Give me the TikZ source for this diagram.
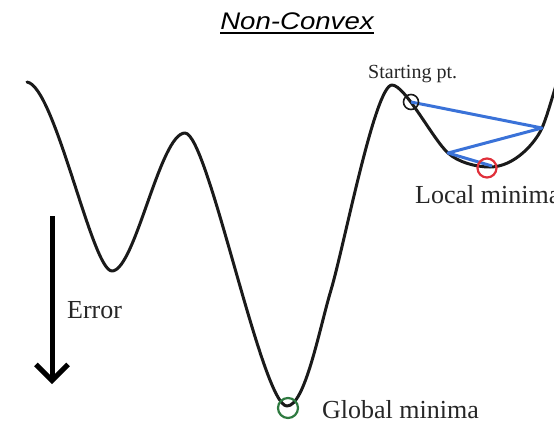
\documentclass[tikz,border=0pt]{standalone}
\usepackage{fontspec}
\setmainfont{Liberation Serif}
\newfontfamily\titlefont{Liberation Sans}
\usetikzlibrary{arrows.meta}
\definecolor{curveblk}{HTML}{1A1A1A}
\definecolor{stepblue}{HTML}{3A72D8}
\definecolor{minred}{HTML}{E0303A}
\definecolor{mingreen}{HTML}{2E7A40}
\tikzset{
  errcurve/.style={line width=3pt, color=curveblk, line join=round, line cap=round},
  stepline/.style={line width=3pt, color=stepblue, line join=round},
  lbl/.style={inner sep=0pt, anchor=base west, text=black!85},
  marker/.style={draw, circle, inner sep=0pt, fill=none}
}
\begin{document}
\begin{tikzpicture}[x=1pt,y=-1pt]
\useasboundingbox (0,0) rectangle (554,423);
% title
\node[inner sep=0pt, anchor=base, xscale=1.15] (title) at (297,29) {\titlefont\fontsize{24}{27}\selectfont\itshape Non-Convex};
\draw[line width=2pt] ([yshift=-4pt]title.base west) -- ([yshift=-4pt]title.base east);
% error surface
\draw[errcurve]
  (27,82) .. controls (55,86) and (92,271) .. (112,271)
  .. controls (135,271) and (160,133) .. (185,133)
  .. controls (208,133) and (262,406) .. (287,406)
  .. controls (305,406) and (319.5,328.3) .. (331,290)
  .. controls (343.9,246.9) and (375,85) .. (392,85)
  .. controls (405,85) and (433,139.5) .. (448,153)
  .. controls (458,162) and (475,167) .. (490,167)
  .. controls (515,167) and (536,141.8) .. (542,128)
  .. controls (546,119) and (550,105) .. (557,82);
% gradient steps
\coordinate (s0) at (411,102);
\coordinate (s1) at (542,128);
\coordinate (s2) at (448,153);
\coordinate (s3) at (492,166);
\draw[stepline] (s0) -- (s1) -- (s2) -- (s3);
% markers
\node[marker, draw=curveblk, line width=1.6pt, minimum size=15pt] (start) at (s0) {};
\node[marker, draw=minred, line width=2.2pt, minimum size=19pt] (locmin) at (487,168) {};
\node[marker, draw=mingreen, line width=2.2pt, minimum size=20pt] (globmin) at (288,408) {};
% labels
\node[lbl, font=\fontsize{20}{23}\selectfont] (startlbl) at (368,78) {Starting pt.};
\node[lbl, font=\fontsize{26}{30}\selectfont] (loclbl) at (415,203) {Local minima};
\node[lbl, font=\fontsize{26}{30}\selectfont] (globlbl) at (322,418) {Global minima};
\node[lbl, font=\fontsize{26}{30}\selectfont] (errlbl) at (67,318) {Error};
% error arrow
\coordinate (atop) at (52,216);
\coordinate (abot) at (52,384);
\draw[line width=5pt, -{Straight Barb[length=16pt, width=32pt, line width=5pt]}] (atop) -- (abot);
\end{tikzpicture}
\end{document}
